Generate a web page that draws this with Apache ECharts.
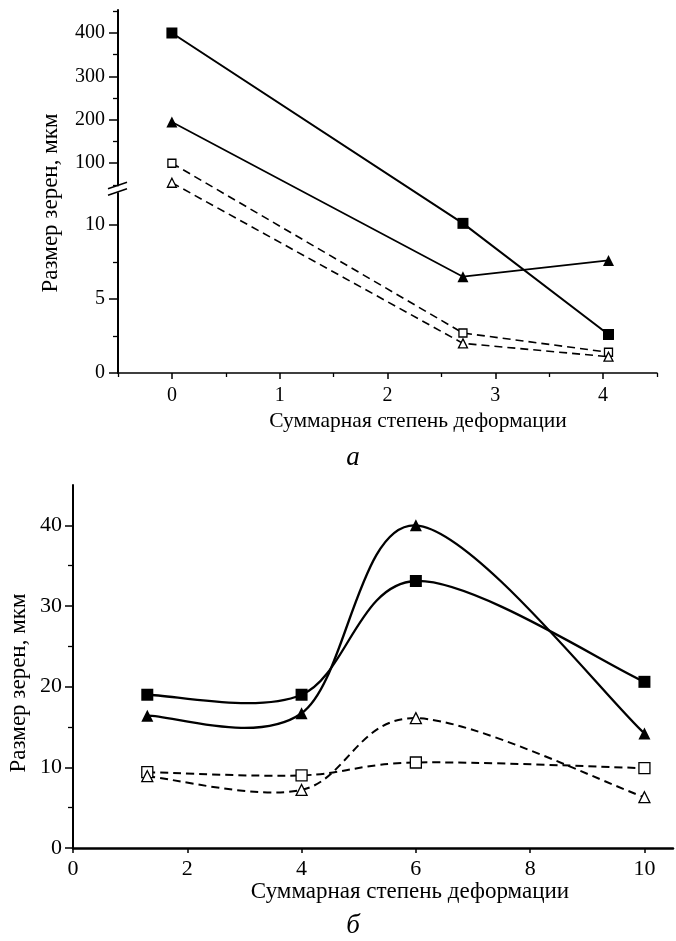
<!DOCTYPE html>
<html>
<head>
<meta charset="utf-8">
<script src="https://cdn.jsdelivr.net/npm/echarts@6/dist/echarts.min.js"></script>
<style>
  html, body { margin: 0; padding: 0; background: #fff; }
  #chart { width: 676px; height: 941px; }
</style>
</head>
<body>
<div id="chart"></div>
<script>
// (а) — broken y axis: 0..12.4 linear, then 40..450 compressed
const topX = [0, 2.7, 4.05]
const topSqFilled = [400, 10.1, 2.6]
const topTriFilled = [195, 6.5, 7.6]
const topSqOpen = [100, 2.7, 1.4]
const topTriOpen = [55, 2.0, 1.1]
const topXLabels = [0, 1, 2, 3, 4]
const topXMinor = [-0.5, 0.5, 1.5, 2.5, 3.5, 4.5]
const topYLabels = [0, 5, 10, 100, 200, 300, 400]
const topYMinor = [2.5, 7.5, 50, 150, 250, 350, 450]

// (б)
const botX = [1.3, 4, 6, 10]
const botSqFilled = [19.0, 19.0, 33.1, 20.6]
const botTriFilled = [16.4, 16.7, 40.0, 14.2]
const botSqOpen = [9.4, 9.0, 10.6, 9.9]
const botTriOpen = [8.9, 7.2, 16.1, 6.3]
const botXLabels = [0, 2, 4, 6, 8, 10]
const botYLabels = [0, 10, 20, 30, 40]
const botYMinor = [5, 15, 25, 35]

const BREAK_LOW = 12.4   // top of lower segment
const BREAK_HIGH = 40    // bottom of upper segment
const UPPER_SCALE = 0.0293

// real value -> position on the broken axis
function brk(v) {
  return v <= BREAK_LOW ? v : BREAK_LOW + (v - BREAK_HIGH) * UPPER_SCALE
}
const labelByPos = {}
topYLabels.forEach(v => { labelByPos[brk(v).toFixed(4)] = String(v) })

const serif = 'Liberation Serif'
const black = '#000'
const DASH = [8, 5]

function pairs(xs, ys, f) {
  return xs.map((x, i) => [x, f ? f(ys[i]) : ys[i]])
}

function symbolStyle(open) {
  return open
    ? { color: '#fff', borderColor: black, borderWidth: 1.3, opacity: 1 }
    : { color: black, borderColor: black, borderWidth: 0, opacity: 1 }
}

function lineSeries(data, opts) {
  return {
    type: 'line',
    xAxisIndex: 0,
    yAxisIndex: 0,
    data: data,
    symbol: opts.symbol,
    symbolSize: opts.size,
    showSymbol: true,
    lineStyle: { color: black, width: opts.width, type: opts.dashed ? DASH : 'solid' },
    itemStyle: symbolStyle(opts.open),
    emphasis: { disabled: true }
  }
}

// catmull-rom curve through the points, drawn in the bottom grid
function curveSeries(xs, ys, opts) {
  return {
    type: 'custom',
    xAxisIndex: 2,
    yAxisIndex: 2,
    data: pairs(xs, ys),
    z: 2,
    renderItem: (params, api) => {
      if (params.dataIndex !== 0) return null
      const p = xs.map((x, i) => api.coord([x, ys[i]]))
      let d = 'M' + p[0][0] + ' ' + p[0][1]
      for (let i = 0; i < p.length - 1; i++) {
        const p0 = p[i - 1] || p[i], p1 = p[i], p2 = p[i + 1], p3 = p[i + 2] || p[i + 1]
        const c1x = p1[0] + (p2[0] - p0[0]) / 6, c1y = p1[1] + (p2[1] - p0[1]) / 6
        const c2x = p2[0] - (p3[0] - p1[0]) / 6, c2y = p2[1] - (p3[1] - p1[1]) / 6
        d += ' C' + c1x + ' ' + c1y + ' ' + c2x + ' ' + c2y + ' ' + p2[0] + ' ' + p2[1]
      }
      return {
        type: 'path',
        shape: { pathData: d },
        style: { fill: 'none', stroke: black, lineWidth: opts.width, lineDash: opts.dashed ? DASH : null }
      }
    }
  }
}

function markSeries(xs, ys, opts) {
  return {
    type: 'scatter',
    xAxisIndex: 2,
    yAxisIndex: 2,
    data: pairs(xs, ys),
    symbol: opts.symbol,
    symbolSize: opts.size,
    itemStyle: symbolStyle(opts.open),
    z: 3,
    emphasis: { disabled: true }
  }
}

function axisBase(grid, min, max, pos) {
  return { gridIndex: grid, type: 'value', min: min, max: max, position: pos, splitLine: { show: false } }
}

const chart = echarts.init(document.getElementById('chart'))

chart.setOption({
  animation: false,
  grid: [
    { left: 118, top: 10, width: 539, height: 363 },
    { left: 73, top: 485, width: 600, height: 363 }
  ],
  xAxis: [
    Object.assign(axisBase(0, -0.5, 4.5, 'bottom'), {
      axisLine: { onZero: false, lineStyle: { color: black, width: 1.5 } },
      axisTick: { customValues: topXLabels, length: 6, lineStyle: { color: black, width: 1.5 } },
      axisLabel: { customValues: topXLabels, color: black, fontFamily: serif, fontSize: 20, margin: 13 }
    }),
    Object.assign(axisBase(0, -0.5, 4.5, 'bottom'), {
      axisLine: { show: false, onZero: false },
      axisTick: { customValues: topXMinor, length: 4, lineStyle: { color: black, width: 1.3 } },
      axisLabel: { show: false }
    }),
    Object.assign(axisBase(1, 0, 10.5, 'bottom'), {
      axisLine: { onZero: false, lineStyle: { color: black, width: 2.5 } },
      axisTick: { customValues: botXLabels, length: 5, lineStyle: { color: black, width: 1.5 } },
      axisLabel: { customValues: botXLabels, color: black, fontFamily: serif, fontSize: 22, margin: 10 }
    })
  ],
  yAxis: [
    Object.assign(axisBase(0, 0, 24.5, 'left'), {
      axisLine: { onZero: false, lineStyle: { color: black, width: 2 } },
      axisTick: { customValues: topYLabels.map(brk), length: 9, lineStyle: { color: black, width: 1.5 } },
      axisLabel: {
        customValues: topYLabels.map(brk), color: black, fontFamily: serif, fontSize: 20, margin: 13,
        formatter: v => labelByPos[Number(v).toFixed(4)] || ''
      }
    }),
    Object.assign(axisBase(0, 0, 24.5, 'left'), {
      axisLine: { show: false, onZero: false },
      axisTick: { customValues: topYMinor.map(brk), length: 5, lineStyle: { color: black, width: 1.3 } },
      axisLabel: { show: false }
    }),
    Object.assign(axisBase(1, 0, 45, 'left'), {
      axisLine: { onZero: false, lineStyle: { color: black, width: 2 } },
      axisTick: { customValues: botYLabels, length: 8, lineStyle: { color: black, width: 1.5 } },
      axisLabel: { customValues: botYLabels, color: black, fontFamily: serif, fontSize: 22, margin: 11 }
    }),
    Object.assign(axisBase(1, 0, 45, 'left'), {
      axisLine: { show: false, onZero: false },
      axisTick: { customValues: botYMinor, length: 5, lineStyle: { color: black, width: 1.3 } },
      axisLabel: { show: false }
    })
  ],
  series: [
    lineSeries(pairs(topX, topSqOpen, brk), { symbol: 'rect', size: 8, width: 1.6, dashed: true, open: true }),
    lineSeries(pairs(topX, topTriOpen, brk), { symbol: 'triangle', size: 9, width: 1.6, dashed: true, open: true }),
    lineSeries(pairs(topX, topTriFilled, brk), { symbol: 'triangle', size: 11, width: 1.7 }),
    lineSeries(pairs(topX, topSqFilled, brk), { symbol: 'rect', size: 11, width: 2 }),

    curveSeries(botX, botSqOpen, { width: 2, dashed: true }),
    curveSeries(botX, botTriOpen, { width: 2, dashed: true }),
    curveSeries(botX, botTriFilled, { width: 2.3 }),
    curveSeries(botX, botSqFilled, { width: 2.3 }),
    markSeries(botX, botSqOpen, { symbol: 'rect', size: 11, open: true }),
    markSeries(botX, botTriOpen, { symbol: 'triangle', size: 11, open: true }),
    markSeries(botX, botTriFilled, { symbol: 'triangle', size: 12 }),
    markSeries(botX, botSqFilled, { symbol: 'rect', size: 12 })
  ]
})

// break marks on the top y axis + texts
const bp = chart.convertToPixel({ xAxisIndex: 0, yAxisIndex: 0 }, [-0.5, BREAK_LOW])
const bx = bp[0], by = bp[1]

function txt(x, y, text, size, rot, italic) {
  return {
    type: 'text', x: x, y: y, rotation: rot || 0,
    style: {
      text: text, x: 0, y: 0, fill: black,
      font: (italic ? 'italic ' : '') + size + 'px "' + serif + '"',
      align: 'center', verticalAlign: 'middle'
    }
  }
}

chart.setOption({
  graphic: [
    { type: 'rect', shape: { x: bx - 3, y: by - 3, width: 6, height: 6 }, style: { fill: '#fff' }, z: 100 },
    { type: 'line', shape: { x1: bx - 10, y1: by - 0.5, x2: bx + 9, y2: by - 7 }, style: { stroke: black, lineWidth: 1.5 }, z: 101 },
    { type: 'line', shape: { x1: bx - 10, y1: by + 6, x2: bx + 9, y2: by - 0.5 }, style: { stroke: black, lineWidth: 1.5 }, z: 101 },
    txt(51, 203, 'Размер зерен, мкм', 23, Math.PI / 2),
    txt(418, 421, 'Суммарная степень деформации', 21.5),
    txt(353, 458, 'а', 27, 0, true),
    txt(19, 683, 'Размер зерен, мкм', 23, Math.PI / 2),
    txt(410, 892, 'Суммарная степень деформации', 23),
    txt(353, 926, 'б', 27, 0, true)
  ]
})
</script>
</body>
</html>
